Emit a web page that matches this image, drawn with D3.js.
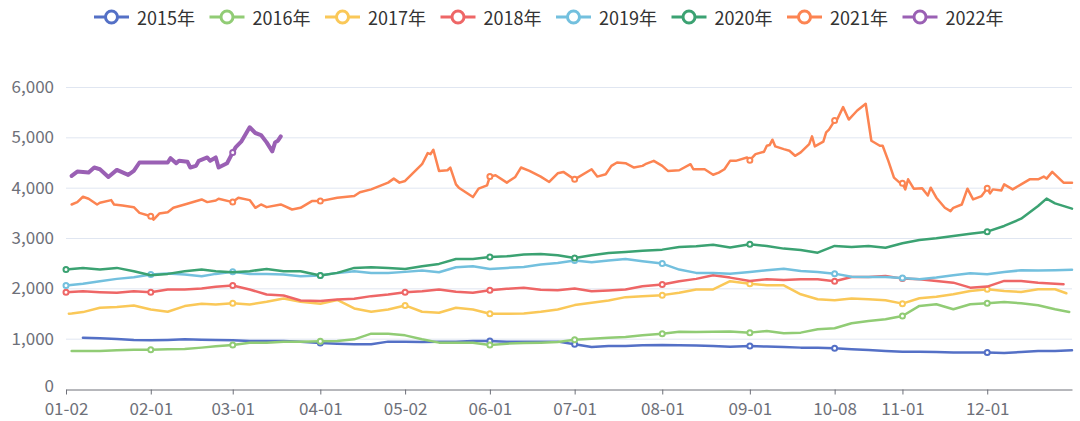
<!DOCTYPE html>
<html><head><meta charset="utf-8">
<script src="https://cdn.jsdelivr.net/npm/d3@7"></script>
<style>
html,body{margin:0;padding:0;background:#fff;}
svg{display:block;font-family:"Noto Sans CJK SC","Noto Sans",sans-serif;}
</style></head>
<body><svg id="chart" width="1080" height="421"></svg>
<script>
// ---------- DATA ----------
const years = ["2015年","2016年","2017年","2018年","2019年","2020年","2021年","2022年"];
const xLabels = ["01-02","02-01","03-01","04-01","05-02","06-01","07-01","08-01","09-01","10-08","11-01","12-01"];
const yTicks = [0,1000,2000,3000,4000,5000,6000];
const excludedDays = ["05-01","10-01","10-02","10-03","10-04","10-05","10-06","10-07"];

// shared sample dates for 2015-2020
const gridDates = ["01-02","01-03","01-04","01-08","01-14","01-20","01-26","02-01","02-07","02-13","02-19","02-24",
"03-01","03-07","03-13","03-19","03-25","04-01","04-07","04-13","04-19","04-25","05-02","05-08","05-14","05-20","05-26",
"06-01","06-07","06-13","06-19","06-25","07-01","07-07","07-13","07-19","07-25","08-01","08-07","08-13","08-19","08-25",
"09-01","09-07","09-13","09-19","09-25","10-08","10-14","10-20","10-26","11-01","11-07","11-13","11-19","11-25",
"12-01","12-07","12-13","12-19","12-22","12-25","12-28","12-29","12-30","12-31"];

const v2015 = [null,null,null,1020,1007,994,974,967,974,987,980,974,
967,954,954,954,941,915,901,888,888,941,941,934,941,941,954,
954,941,941,941,941,888,835,855,855,868,875,868,862,855,840,
855,842,836,822,822,809,789,776,756,742,742,736,723,723,
723,717,736,756,null,756,null,null,null,770];
const v2016 = [null,null,756,756,756,769,782,782,789,796,822,848,
875,921,921,941,941,947,954,987,1099,1099,1066,987,921,921,921,
875,901,914,921,934,980,1000,1020,1033,1066,1099,1139,1132,1139,1140,
1120,1153,1107,1120,1187,1206,1306,1352,1385,1451,1650,1683,1584,1683,
1703,1729,1703,1663,null,1584,null,null,1531,null];
const v2017 = [null,1495,1500,1528,1614,1627,1660,1581,1535,1647,1693,1680,
1706,1680,1733,1799,1733,1693,1770,1600,1535,1581,1660,1535,1515,1614,1581,
1495,1495,1502,1535,1581,1667,1713,1759,1825,1845,1865,1911,1977,1977,2142,
2093,2060,2060,1882,1782,1762,1796,1782,1762,1696,1802,1835,1882,1948,
1981,1948,1928,1981,null,1981,null,1902,null,null];
const v2018 = [1924,null,null,1944,1924,1911,1944,1924,1977,1977,1997,2030,
2056,1977,1878,1858,1759,1746,1779,1792,1845,1878,1924,1944,1977,1931,1911,
1964,1990,2010,1970,1964,1997,1944,1957,1977,2043,2076,2142,2188,2261,2213,
2147,2180,2166,2180,2180,2140,2226,2226,2246,2193,2180,2147,2113,2014,
2034,2147,2147,2113,null,2093,2080,null,null,null];
const v2019 = [2056,null,null,2089,2142,2188,2221,2274,2294,2274,2241,2287,
2327,2287,2287,2274,2241,2254,2307,2340,2307,2307,2327,2353,2320,2419,2439,
2386,2406,2426,2472,2505,2551,2518,2551,2584,2538,2492,2373,2307,2307,2290,
2325,2358,2391,2345,2325,2292,2232,2226,2226,2206,2180,2213,2259,2299,
2279,2325,2358,2352,null,2358,null,null,null,2371];
const v2020 = [2373,null,null,2406,2373,2406,2340,2261,2287,2340,2373,2340,
2320,2340,2386,2340,2340,2254,2307,2406,2419,2406,2386,2439,2485,2584,2584,
2624,2637,2670,2683,2657,2604,2657,2703,2723,2749,2769,2822,2835,2868,2810,
2875,2842,2789,2762,2709,2842,2822,2842,2808,2894,2961,2994,3040,3086,
3126,3239,3384,3636,3782,3689,null,null,null,3583];

const dates2021 = ["01-04","01-06","01-08","01-10","01-13","01-14","01-18","01-19","01-22","01-26","01-28","02-01","02-02","02-04","02-07","02-09","02-13","02-19","02-21","02-24","02-25",
"03-01","03-03","03-07","03-09","03-11","03-13","03-18","03-22","03-25","03-29","04-01","04-07","04-13","04-15","04-19","04-25","04-27","04-29",
"05-02","05-08","05-10","05-11","05-12","05-14","05-17","05-18","05-20","05-21","05-26","05-28","05-31",
"06-01","06-03","06-07","06-10","06-12","06-15","06-19","06-22","06-25","06-27","06-30",
"07-01","07-07","07-09","07-12","07-14","07-16","07-19","07-22","07-25","07-26","07-29",
"08-01","08-03","08-07","08-11","08-12","08-16","08-19","08-21","08-23","08-25","08-27","08-31",
"09-01","09-03","09-06","09-07","09-08","09-09","09-10","09-13","09-15","09-17","09-19","09-22","09-23","09-24","09-27","09-28","09-29",
"10-08","10-09","10-11","10-13","10-16","10-19","10-20","10-21","10-24","10-25","10-27","10-29","10-31",
"11-01","11-02","11-03","11-05","11-08","11-10","11-11","11-13","11-16","11-18","11-19","11-22","11-24","11-26","11-29",
"12-01","12-02","12-03","12-06","12-07","12-10","12-13","12-16","12-19","12-21","12-22","12-24","12-28","12-31"];
const v2021 = [3666,3713,3820,3780,3666,3700,3753,3666,3646,3613,3500,3433,3366,3486,3513,3600,3666,3766,3713,3746,3780,
3713,3800,3753,3600,3666,3613,3666,3566,3600,3733,3733,3800,3833,3910,3966,4100,4180,4100,
4133,4466,4687,4666,4753,4333,4346,4400,4066,4000,3813,3980,4046,
4220,4246,4100,4213,4400,4333,4220,4113,4286,4313,4200,
4166,4366,4220,4266,4433,4500,4486,4400,4433,4466,4533,
4433,4333,4346,4466,4366,4366,4256,4300,4366,4533,4533,4600,
4546,4666,4713,4833,4846,4953,4820,4766,4733,4633,4700,4866,5020,4820,4913,5100,5153,
5333,5366,5600,5353,5533,5666,5300,4933,4833,4833,4533,4200,4100,
4086,3966,4166,3980,3986,3846,4000,3800,3600,3533,3600,3666,3980,3766,3833,
3986,3886,3966,3946,4066,3966,4066,4166,4166,4220,4180,4313,4100,4100];

const dates2022 = ["01-04","01-06","01-10","01-12","01-14","01-17","01-20","01-24","01-26","01-28","02-07","02-08","02-10","02-11","02-14","02-15","02-17","02-18","02-21","02-22","02-24","02-25","02-28",
"03-01","03-02","03-04","03-07","03-09","03-11","03-13","03-15","03-16","03-17","03-18"];
const v2022 = [4233,4320,4300,4400,4366,4213,4353,4253,4333,4500,4500,4586,4486,4533,4513,4400,4433,4533,4600,4533,4600,4400,4486,
4700,4800,4913,5200,5086,5046,4900,4720,4900,4933,5020];

// label dates on which each year has a trading day (hollow markers)
const marks2015 = ["04-01","06-01","07-01","09-01","10-08","12-01"];
const marks2016 = ["02-01","03-01","04-01","06-01","07-01","08-01","09-01","11-01","12-01"];
const marks2017 = ["03-01","05-02","06-01","08-01","09-01","11-01","12-01"];
const marks2018 = ["01-02","02-01","03-01","05-02","06-01","08-01","10-08","11-01"];
const marks2019 = ["01-02","02-01","03-01","04-01","07-01","08-01","10-08","11-01"];
const marks2020 = ["01-02","04-01","06-01","07-01","09-01","12-01"];
const marks2021 = ["02-01","03-01","04-01","06-01","07-01","09-01","10-08","11-01","12-01"];
const marks2022 = ["03-01"];

const colors = ["#5470c6","#91cc75","#fac858","#ee6666","#73c0de","#3ba272","#fc8452","#9a60b4"];

// ---------- BUILD ----------
const categories = d3.timeDay.range(new Date(2020,0,2), new Date(2021,0,1))
  .map(d3.timeFormat("%m-%d")).filter(s => !excludedDays.includes(s));

function pairs(ds, vs){ return ds.map((d,i)=>({d, v: vs[i]})).filter(p => p.v != null); }
const series = [
  {name: years[0], pts: pairs(gridDates, v2015), marks: marks2015, w: 2.5},
  {name: years[1], pts: pairs(gridDates, v2016), marks: marks2016, w: 2.5},
  {name: years[2], pts: pairs(gridDates, v2017), marks: marks2017, w: 2.5},
  {name: years[3], pts: pairs(gridDates, v2018), marks: marks2018, w: 2.5},
  {name: years[4], pts: pairs(gridDates, v2019), marks: marks2019, w: 2.5},
  {name: years[5], pts: pairs(gridDates, v2020), marks: marks2020, w: 2.5},
  {name: years[6], pts: pairs(dates2021, v2021), marks: marks2021, w: 2.5},
  {name: years[7], pts: pairs(dates2022, v2022), marks: marks2022, w: 4}
];

const svg = d3.select("#chart");
const L = 66, R = 1072, T = 87, B = 389;
const x = d3.scalePoint().domain(categories).range([L, R]);
const y = d3.scaleLinear().domain([0, 6000]).range([B, T]);

// grid
svg.append("g").selectAll("line").data(yTicks.filter(t => t > 0)).join("line")
  .attr("x1", L).attr("x2", R).attr("y1", d => y(d)+0.5).attr("y2", d => y(d)+0.5)
  .attr("stroke", "#E0E6F1").attr("stroke-width", 1);

// y axis labels
const yAxis = svg.append("g").attr("transform", `translate(${L},0)`)
  .call(d3.axisLeft(y).tickValues(yTicks).tickSize(0).tickPadding(12).tickFormat(d3.format(",")));
yAxis.select(".domain").remove();
yAxis.selectAll("text").attr("fill", "#6E7079").style("font-size", "17px")
  .style("font-family", '"Noto Sans CJK SC","Noto Sans",sans-serif');
yAxis.selectAll(".tick").filter(d => d === 0).select("text").attr("dy", "0.12em");

// x axis
const xAxis = svg.append("g").attr("transform", `translate(0,${B+0.5})`)
  .call(d3.axisBottom(x).tickValues(xLabels).tickSize(5).tickSizeOuter(0).tickPadding(8));
xAxis.select(".domain").attr("stroke", "#6E7079");
xAxis.selectAll(".tick line").attr("stroke", "#6E7079");
xAxis.selectAll("text").attr("fill", "#6E7079").style("font-size", "17px")
  .style("font-family", '"Noto Sans CJK SC","Noto Sans",sans-serif');

// lines
const line = d3.line().x(p => x(p.d)).y(p => y(p.v));
series.forEach((s, i) => {
  const g = svg.append("g");
  g.append("path").datum(s.pts).attr("d", line).attr("fill", "none")
    .attr("stroke", colors[i]).attr("stroke-width", s.w)
    .attr("stroke-linejoin", "round").attr("stroke-linecap", "round");
  const byDate = new Map(s.pts.map(p => [p.d, p.v]));
  g.selectAll("circle").data(s.marks.filter(m => byDate.has(m))).join("circle")
    .attr("cx", m => x(m)).attr("cy", m => y(byDate.get(m))).attr("r", 2.5)
    .attr("fill", "#fff").attr("stroke", colors[i]).attr("stroke-width", 2);
});

// legend
const lg = svg.append("g");
years.forEach((name, i) => {
  const x0 = 94 + i * 115.5, cy = 17;
  lg.append("line").attr("x1", x0).attr("x2", x0 + 35).attr("y1", cy).attr("y2", cy)
    .attr("stroke", colors[i]).attr("stroke-width", 3);
  lg.append("circle").attr("cx", x0 + 17.5).attr("cy", cy).attr("r", 6)
    .attr("fill", "#fff").attr("stroke", colors[i]).attr("stroke-width", 3);
  lg.append("text").attr("x", x0 + 43).attr("y", cy).attr("dominant-baseline", "central")
    .attr("fill", "#333").style("font-size", "18px").text(name);
});
</script></body></html>
